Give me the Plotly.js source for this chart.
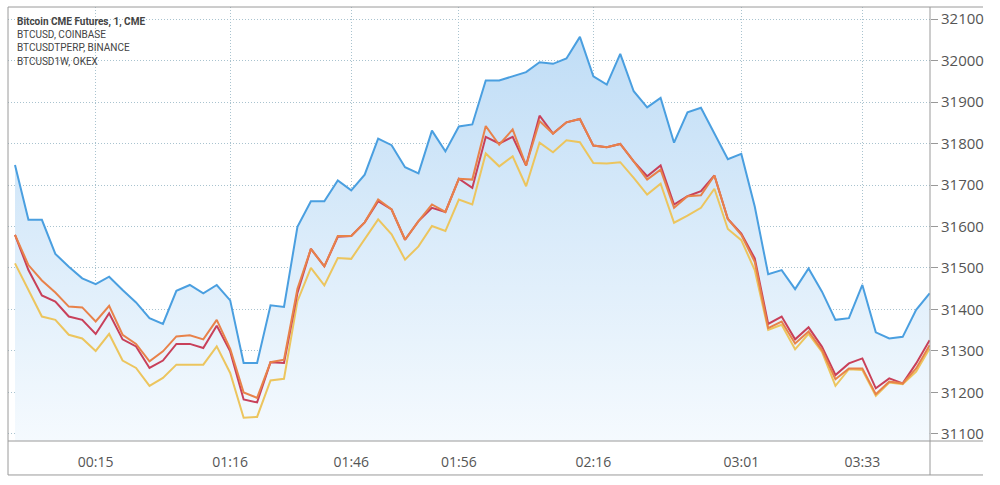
<!DOCTYPE html>
<html>
<head>
<meta charset="utf-8">
<script src="https://cdn.plot.ly/plotly-3.0.1.min.js"></script>
<style>html,body{margin:0;padding:0;background:#fff;}#chart{width:1000px;height:485px;}</style>
</head>
<body>
<div id="chart"></div>
<script>
const seriesNames = ["Bitcoin CME Futures, 1, CME", "BTCUSD, COINBASE", "BTCUSDTPERP, BINANCE", "BTCUSD1W, OKEX"];
const tickPositions = [6, 16, 25, 33, 43, 54, 63];
const tickLabels = ["00:15", "01:16", "01:46", "01:56", "02:16", "03:01", "03:33"];

const cme = [31748,31616,31616,31534,31503,31475,31461,31479,31447,31417,31379,31365,31445,31459,31439,31459,31422,31271,31271,31410,31406,31599,31661,31661,31711,31687,31725,31812,31796,31743,31728,31831,31781,31841,31846,31952,31952,31962,31972,31996,31992,32005,32057,31962,31942,32016,31926,31887,31910,31802,31875,31886,31824,31762,31775,31648,31485,31495,31449,31499,31443,31375,31379,31459,31345,31330,31334,31399,31439];
const coinbase = [31580,31507,31470,31441,31407,31405,31371,31409,31339,31317,31275,31299,31335,31338,31328,31375,31305,31200,31187,31273,31279,31450,31546,31504,31577,31577,31610,31665,31641,31568,31613,31653,31635,31715,31713,31842,31797,31834,31747,31854,31824,31851,31859,31795,31791,31799,31757,31713,31737,31645,31673,31675,31723,31618,31580,31515,31355,31371,31318,31347,31302,31232,31258,31258,31196,31226,31222,31258,31314];
const binance = [31580,31495,31434,31419,31383,31375,31341,31391,31328,31311,31259,31277,31317,31317,31307,31361,31299,31183,31176,31273,31271,31440,31546,31504,31575,31577,31610,31661,31641,31568,31613,31645,31635,31715,31693,31816,31800,31816,31747,31867,31824,31851,31859,31795,31791,31799,31757,31721,31747,31653,31673,31685,31723,31618,31583,31523,31365,31383,31328,31357,31310,31242,31270,31282,31210,31234,31222,31270,31326];
const okex = [31511,31447,31383,31375,31339,31330,31300,31341,31277,31259,31216,31235,31267,31267,31267,31311,31247,31139,31141,31229,31233,31420,31500,31458,31524,31522,31568,31617,31581,31520,31552,31601,31589,31665,31653,31776,31745,31769,31697,31802,31779,31808,31803,31753,31752,31755,31717,31677,31703,31609,31626,31645,31691,31594,31567,31495,31351,31363,31304,31341,31298,31216,31256,31254,31192,31224,31220,31250,31306];

const idx = cme.map((_, i) => i);

const traces = [
  {
    x: idx, y: cme, name: seriesNames[0], type: "scatter", mode: "lines",
    line: {color: "#4a9fe0", width: 2},
    fill: "tozeroy",
    fillgradient: {type: "vertical", start: 31083, stop: 32060,
      colorscale: [[0, "rgba(245,250,254,1)"], [1, "rgba(192,221,246,1)"]]},
    hoverinfo: "skip"
  },
  {x: idx, y: okex, name: seriesNames[3], type: "scatter", mode: "lines", line: {color: "#ecc55e", width: 2}},
  {x: idx, y: binance, name: seriesNames[2], type: "scatter", mode: "lines", line: {color: "#c8405a", width: 2}},
  {x: idx, y: coinbase, name: seriesNames[1], type: "scatter", mode: "lines", line: {color: "#e8824a", width: 2}}
];

const lineColor = "#9a9a9a";
const shapes = [
  {type: "line", xref: "paper", yref: "paper", x0: 0, x1: 1.0575, y0: 1, y1: 1, line: {color: lineColor, width: 1}},
  {type: "line", xref: "paper", yref: "paper", x0: 0, x1: 1.0575, y0: 0, y1: 0, line: {color: lineColor, width: 1}},
  {type: "line", xref: "paper", yref: "paper", x0: 0, x1: 1.0575, y0: -0.0783, y1: -0.0783, line: {color: lineColor, width: 1}},
  {type: "line", xref: "paper", yref: "paper", x0: 0, x1: 0, y0: -0.0783, y1: 1, line: {color: lineColor, width: 1}},
  {type: "line", xref: "paper", yref: "paper", x0: 1, x1: 1, y0: -0.0783, y1: 1, line: {color: lineColor, width: 1}}
];

const labelY = [21.5, 34.5, 48, 61.5];
const annotations = seriesNames.map((n, i) => ({
  text: i === 0 ? "<b>" + n + "</b>" : n,
  xref: "paper", yref: "paper",
  x: 7 / 922, y: (441 - labelY[i]) / 434,
  xanchor: "left", yanchor: "middle", showarrow: false,
  font: {family: "Roboto, sans-serif", size: 10, color: "#444"}
}));

const layout = {
  width: 1000, height: 485,
  margin: {l: 8, r: 70, t: 7, b: 44, pad: 0},
  paper_bgcolor: "#ffffff", plot_bgcolor: "#ffffff",
  showlegend: false,
  xaxis: {
    range: [-0.52, 68.03], tickmode: "array", tickvals: tickPositions, ticktext: tickLabels,
    showgrid: true, gridcolor: "#a9c3cf", griddash: "1px,2px", gridwidth: 1,
    zeroline: false, showline: false,
    ticks: "outside", ticklen: 8, tickcolor: "rgba(0,0,0,0)",
    tickfont: {family: "Open Sans, sans-serif", size: 14, color: "#555"}
  },
  yaxis: {
    side: "right", range: [31083, 32129], tickmode: "array",
    tickvals: [31100,31200,31300,31400,31500,31600,31700,31800,31900,32000,32100],
    ticktext: ["31100","31200","31300","31400","31500","31600","31700","31800","31900","32000","32100"],
    showgrid: true, gridcolor: "#a9c3cf", griddash: "1px,2px", gridwidth: 1,
    zeroline: false, showline: false,
    ticks: "outside", ticklen: 7, tickcolor: "#999",
    tickfont: {family: "Open Sans, sans-serif", size: 15, color: "#555"}
  },
  shapes: shapes,
  annotations: annotations
};

Plotly.newPlot("chart", traces, layout, {staticPlot: true, displayModeBar: false});
</script>
</body>
</html>
